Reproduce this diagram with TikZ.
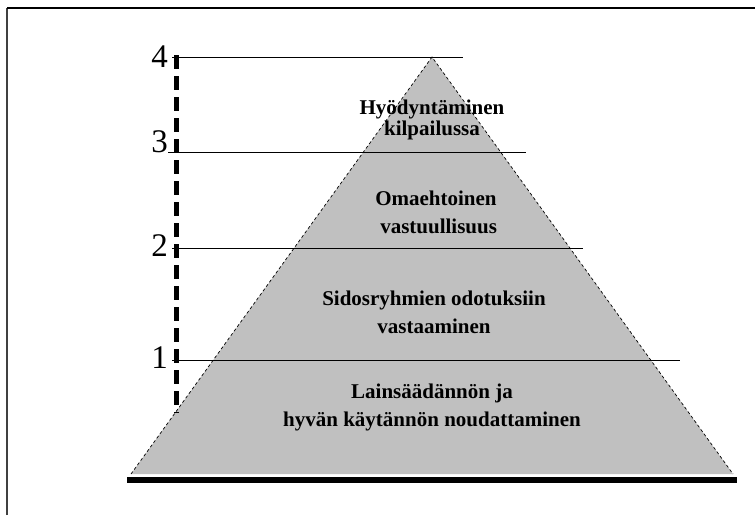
\documentclass[tikz,border=0pt]{standalone}
\usepackage{fontspec}
\setmainfont{Liberation Serif}
\usepackage{xcolor}
\usetikzlibrary{positioning}
\definecolor{pyramidi}{RGB}{192,192,192}

\begin{document}
\begin{tikzpicture}[x=1pt, y=-1pt,
  taso/.style={black, line width=0.8pt},
  reuna/.style={black, line width=0.7pt, dash pattern=on 3pt off 2.5pt},
  asteikko/.style={black, line width=5pt, dash pattern=on 14pt off 7pt},
  numero/.style={font=\fontsize{33}{33}\selectfont, inner sep=0pt, anchor=east},
  teksti/.style={font=\fontsize{21}{28}\selectfont\bfseries, align=center, inner sep=0pt}]
\useasboundingbox (0,0) rectangle (755,515);
% kehys
\draw[black!75, line width=1.5pt] (7,515) -- (7,8);
\draw[black, line width=1.5pt] (7,8) -- (755,8);
% pyramidi
\coordinate (huippu) at (432,57);
\coordinate (vasen) at (131,474);
\coordinate (oikea) at (733,474);
\fill[pyramidi] (vasen) -- (huippu) -- (oikea) -- cycle;
\draw[reuna] (vasen) -- (huippu) -- (oikea);
\coordinate (pohjaA) at (127,480);
\coordinate (pohjaB) at (737,480);
\draw[black, line width=6pt] (pohjaA) -- (pohjaB);
% tasot
\coordinate (t4a) at (172,57);  \coordinate (t4b) at (463,57);
\coordinate (t3a) at (168,152); \coordinate (t3b) at (526,152);
\coordinate (t2a) at (172,248); \coordinate (t2b) at (583,248);
\coordinate (t1a) at (172,360); \coordinate (t1b) at (680,360);
\foreach \t in {1,...,4}
  \draw[taso] (t\t a) -- (t\t b);
% asteikko
\coordinate (ylhaalla) at (176,55);
\coordinate (alhaalla) at (176,413);
\draw[asteikko] (ylhaalla) -- (alhaalla);
\node[numero] (n4) at (168,57) {4};
\node[numero] (n3) at (168,142) {3};
\node[numero] (n2) at (168,246) {2};
\node[numero] (n1) at (168,358) {1};
% tekstit
\node[teksti, font=\fontsize{21}{21}\selectfont\bfseries] (hyod) at (432,120)
  {Hyödyntäminen\\kilpailussa};
\node[teksti] (omae) at (436,212) {Omaehtoinen\\\ vastuullisuus};
\node[teksti] (sidos) at (434,312) {Sidosryhmien odotuksiin\\vastaaminen};
\node[teksti] (lain) at (432,407) {Lainsäädännön ja\\hyvän käytännön noudattaminen};
\end{tikzpicture}
\end{document}
